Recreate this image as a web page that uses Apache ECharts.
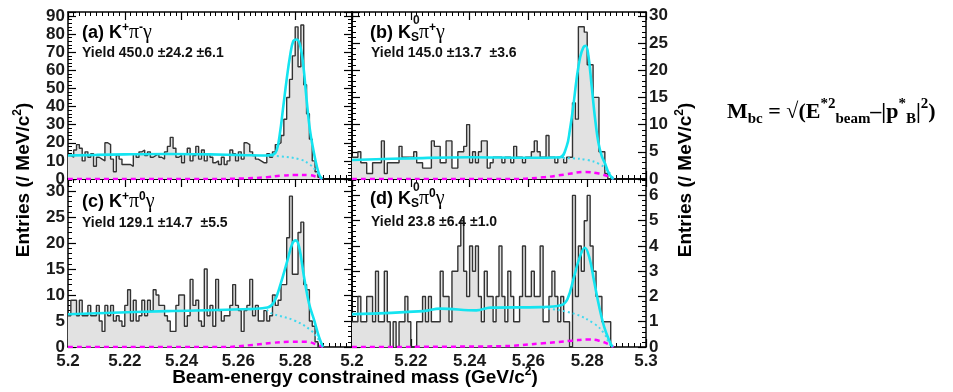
<!DOCTYPE html>
<html>
<head>
<meta charset="utf-8">
<script src="https://cdn.jsdelivr.net/npm/echarts@6/dist/echarts.min.js"></script>
<style>
  html, body { margin: 0; padding: 0; background: #fff; }
  #chart { width: 953px; height: 392px; }
</style>
</head>
<body>
<div id="chart"></div>
<script>
// histogram bins: 1 MeV wide, starting at 5.200 GeV
const binStart = 5.2;
const binWidth = 0.001;

// (a) K+ pi- gamma
const histA = [
  13, 12, 16, 19, 17, 10, 15, 12, 14, 7,
  12, 11, 10, 20, 19, 11, 4, 13, 11, 8,
  8, 8, 7, 14, 12, 15, 16, 13, 15, 12,
  13, 14, 12, 11, 15, 18, 23, 17, 12, 13,
  9, 14, 17, 10, 13, 18, 11, 16, 10, 14,
  12, 9, 10, 8, 12, 8, 10, 16, 14, 10,
  15, 11, 20, 19, 15, 13, 11, 10, 9, 9,
  14, 12, 15, 19, 20, 24, 33, 45, 55, 68,
  84, 62, 85, 52, 36, 22, 10, 4, 1, 0
];
const fitA = [[5.2, 13], [5.21, 13.3], [5.22, 13.6], [5.235, 13.8], [5.25, 13.6], [5.262, 13.2], [5.27, 13],
  [5.2723, 13.5], [5.2735, 16], [5.2746, 25], [5.2758, 40], [5.277, 55], [5.2782, 68], [5.2793, 76],
  [5.2805, 77], [5.2817, 74], [5.2829, 62], [5.284, 44], [5.2852, 27], [5.2864, 16], [5.2876, 7],
  [5.2887, 1.5], [5.2895, 0]];
const bkgA = [[5.27, 12.9], [5.275, 12.5], [5.2817, 10.8], [5.2852, 8], [5.2876, 4], [5.2893, 0.5], [5.2897, 0]];
const peakA = [[5.2, 0], [5.25, 0], [5.262, 0.3], [5.27, 1], [5.275, 1.8], [5.28, 2.2], [5.285, 2.1], [5.2875, 1.2], [5.2895, 0]];

// (b) K0S pi+ gamma
const histB = [
  4, 4, 5, 3, 3, 1, 1, 3, 3, 3,
  7, 1, 3, 3, 3, 3, 6, 4, 4, 4,
  4, 5, 3, 3, 2, 2, 2, 7, 6, 6,
  3, 3, 7, 7, 2, 2, 5, 5, 6, 10,
  3, 5, 3, 5, 7, 7, 2, 3, 4, 4,
  4, 3, 4, 4, 3, 6, 4, 4, 3, 4,
  4, 5, 7, 5, 4, 4, 8, 4, 4, 3,
  4, 4, 3, 4, 4, 14, 11, 28, 28, 27,
  21, 21, 15, 15, 5, 5, 1, 0, 0, 0
];
const fitB = [[5.2, 3.5], [5.22, 3.8], [5.24, 4.0], [5.26, 3.9], [5.2707, 4.0], [5.273, 6], [5.2741, 9],
  [5.2753, 13.5], [5.2764, 18.4], [5.2776, 22.4], [5.2787, 24.2], [5.2795, 24.5], [5.2804, 22.7],
  [5.2815, 17.2], [5.2827, 11], [5.2838, 6.7], [5.2849, 4.3], [5.2861, 2.8], [5.2872, 1.2], [5.2883, 0.3], [5.289, 0]];
const bkgB = [[5.27, 3.9], [5.275, 3.8], [5.28, 3.5], [5.284, 2.8], [5.287, 1.5], [5.289, 0]];
const peakB = [[5.2, 0], [5.255, 0], [5.265, 0.3], [5.272, 0.8], [5.2795, 1.3], [5.284, 1.0], [5.2875, 0.4], [5.289, 0]];

// (c) K+ pi0 gamma
const histC = [
  6, 9, 9, 6, 9, 6, 6, 8, 6, 6,
  8, 5, 3, 8, 6, 8, 5, 6, 5, 4,
  8, 11, 5, 9, 5, 6, 9, 6, 9, 7,
  11, 10, 8, 8, 6, 5, 3, 3, 8, 10,
  10, 4, 6, 13, 8, 9, 5, 4, 15, 6,
  8, 4, 13, 7, 5, 6, 6, 8, 12, 8,
  7, 3, 7, 8, 13, 6, 8, 5, 5, 7,
  5, 6, 10, 8, 9, 12, 12, 21, 29, 14,
  14, 22, 24, 12, 11, 5, 4, 1, 0, 0
];
const fitC = [[5.2, 6.3], [5.2349, 6.9], [5.2584, 7.2], [5.2702, 7.6], [5.2726, 8.7], [5.2749, 12.2],
  [5.2773, 16.7], [5.279, 19.9], [5.2802, 20.5], [5.2814, 19.2], [5.2831, 13.5], [5.2849, 8.3],
  [5.2867, 5.1], [5.2884, 1.9], [5.2898, 0]];
const bkgC = [[5.27, 7.2], [5.2715, 6.5], [5.2797, 5.1], [5.2855, 3.2], [5.2884, 1.3], [5.2898, 0]];
const peakC = [[5.2, 0], [5.255, 0], [5.265, 0.4], [5.272, 0.8], [5.278, 1.0], [5.284, 1.0], [5.2875, 0.5], [5.2898, 0]];

// (d) K0S pi0 gamma
const histD = [
  1, 1, 2, 1, 1, 2, 2, 1, 3, 1,
  1, 3, 1, 0, 1, 0, 1, 1, 2, 1,
  0, 0, 1, 1, 2, 1, 2, 1, 1, 1,
  3, 2, 2, 1, 3, 3, 4, 5, 3, 2,
  4, 3, 4, 2, 1, 3, 2, 2, 1, 2,
  4, 2, 1, 3, 2, 1, 1, 2, 4, 2,
  2, 3, 2, 2, 4, 1, 1, 2, 3, 2,
  1, 2, 1, 1, 0, 6, 2, 4, 3, 5,
  6, 4, 3, 2, 2, 1, 1, 1, 0, 0
];
const fitD = [[5.2, 1.3], [5.2243, 1.42], [5.23, 1.52], [5.2423, 1.45], [5.2471, 1.56], [5.2642, 1.58],
  [5.271, 1.65], [5.2733, 1.9], [5.2755, 2.77], [5.2773, 3.5], [5.2792, 3.93], [5.2807, 3.56],
  [5.2824, 2.57], [5.2841, 1.58], [5.2858, 0.79], [5.2875, 0.26], [5.2886, 0]];
const bkgD = [[5.265, 1.55], [5.2755, 1.32], [5.2824, 0.92], [5.2858, 0.53], [5.2875, 0.13], [5.2886, 0]];
const peakD = [[5.2, 0], [5.25, 0.03], [5.265, 0.15], [5.275, 0.25], [5.28, 0.3], [5.284, 0.25], [5.2875, 0.1], [5.289, 0]];

const yieldTexts = ['Yield 450.0 \u00b124.2 \u00b16.1', 'Yield 145.0 \u00b113.7  \u00b13.6',
  'Yield 129.1 \u00b114.7  \u00b15.5', 'Yield 23.8 \u00b16.4 \u00b11.0'];

const SANS = 'Liberation Sans';
const SERIF = 'Liberation Serif';

// one entry per panel
const panels = [
  { grid: { left: 68, top: 12, width: 284, height: 167 }, yMax: 92.2, yStep: 10, labelSide: 'left', xLabels: false, xMaxLabel: false, hist: histA, fit: fitA, bkg: bkgA, peak: peakA },
  { grid: { left: 352, top: 12, width: 294, height: 167 }, yMax: 30.7, yStep: 5, labelSide: 'right', xLabels: false, xMaxLabel: false, hist: histB, fit: fitB, bkg: bkgB, peak: peakB },
  { grid: { left: 68, top: 179, width: 284, height: 168 }, yMax: 32.3, yStep: 5, labelSide: 'left', xLabels: true, xMaxLabel: false, hist: histC, fit: fitC, bkg: bkgC, peak: peakC },
  { grid: { left: 352, top: 179, width: 294, height: 168 }, yMax: 6.65, yStep: 1, labelSide: 'right', xLabels: true, xMaxLabel: true, hist: histD, fit: fitD, bkg: bkgD, peak: peakD }
];

const histPoints = (vals) => {
  const pts = vals.map((v, i) => [+(binStart + i * binWidth).toFixed(4), v]);
  pts.push([+(binStart + vals.length * binWidth).toFixed(4), 0]);
  return pts;
};

const tickLabel = { fontSize: 17, fontWeight: 'bold', fontFamily: SANS, color: '#1a1a1a' };
const frameLine = { show: true, onZero: false, lineStyle: { color: '#000', width: 1.5 } };

const grids = [], xAxes = [], yAxes = [], series = [];
panels.forEach((p, g) => {
  grids.push(Object.assign({ show: false }, p.grid));
  ['bottom', 'top'].forEach(pos => {
    xAxes.push({
      type: 'value', gridIndex: g, position: pos, min: 5.2, max: 5.3, interval: 0.02,
      axisLine: frameLine,
      axisTick: { show: true, inside: true, length: 8, lineStyle: { color: '#000', width: 1.2 } },
      minorTick: { show: true, splitNumber: 10, length: 4, lineStyle: { color: '#000', width: 1 } },
      splitLine: { show: false },
      axisLabel: Object.assign({
        show: pos === 'bottom' && p.xLabels, showMinLabel: true, showMaxLabel: p.xMaxLabel, margin: 6,
        formatter: v => String(Math.round(v * 100) / 100)
      }, tickLabel)
    });
  });
  ['left', 'right'].forEach(pos => {
    yAxes.push({
      type: 'value', gridIndex: g, position: pos, min: 0, max: p.yMax, interval: p.yStep,
      axisLine: frameLine,
      axisTick: { show: true, inside: true, length: 8, lineStyle: { color: '#000', width: 1.2 } },
      minorTick: { show: true, splitNumber: 5, length: 4, lineStyle: { color: '#000', width: 1 } },
      splitLine: { show: false },
      axisLabel: Object.assign({ show: pos === p.labelSide, showMaxLabel: false, margin: 3 }, tickLabel)
    });
  });
  const xi = 2 * g, yi = 2 * g + (p.labelSide === 'left' ? 0 : 1);
  series.push({
    type: 'line', xAxisIndex: xi, yAxisIndex: yi, data: histPoints(p.hist), step: 'end',
    symbol: 'none', lineStyle: { color: '#333', width: 1.4 },
    areaStyle: { color: '#e2e2e2', opacity: 1 }, z: 2
  });
  series.push({
    type: 'line', xAxisIndex: xi, yAxisIndex: yi, data: p.peak, smooth: 0.4, symbol: 'none',
    lineStyle: { color: '#ff00ff', width: 2.5, type: [5, 4] }, z: 3
  });
  series.push({
    type: 'line', xAxisIndex: xi, yAxisIndex: yi, data: p.bkg, smooth: 0.4, symbol: 'none',
    lineStyle: { color: '#40d8ee', width: 2, type: [2, 3] }, z: 4
  });
  series.push({
    type: 'line', xAxisIndex: xi, yAxisIndex: yi, data: p.fit, smooth: 0.4, symbol: 'none',
    lineStyle: { color: '#14e4f0', width: 2.6 }, z: 5
  });
});

// rich text styles for the panel labels
const labelRich = {
  b: { fontSize: 18, fontWeight: 'bold', fontFamily: SANS, lineHeight: 22, color: '#111' },
  g: { fontSize: 20, fontFamily: SERIF, lineHeight: 22, color: '#111' },
  sup: { fontSize: 12, fontWeight: 'bold', fontFamily: SANS, lineHeight: 12, verticalAlign: 'top', color: '#111' },
  sub: { fontSize: 12, fontWeight: 'bold', fontFamily: SANS, lineHeight: 12, verticalAlign: 'bottom', color: '#111' }
};
const titleRich = {
  t: { fontSize: 19, fontWeight: 'bold', fontFamily: SANS, lineHeight: 24, color: '#111' },
  sup: { fontSize: 12, fontWeight: 'bold', fontFamily: SANS, lineHeight: 12, verticalAlign: 'top', color: '#111' }
};
const formulaRich = {
  t: { fontSize: 22, fontWeight: 'bold', fontFamily: SERIF, lineHeight: 30, color: '#000' },
  sup: { fontSize: 15, fontWeight: 'bold', fontFamily: SERIF, lineHeight: 15, verticalAlign: 'top', color: '#000' },
  sub: { fontSize: 15, fontWeight: 'bold', fontFamily: SERIF, lineHeight: 15, verticalAlign: 'bottom', color: '#000' }
};

const label = (x, y, text) => ({ type: 'text', x: x, y: y, style: { text: text, rich: labelRich, verticalAlign: 'top' }, z: 20 });
const small = (x, y, text) => ({ type: 'text', x: x, y: y, style: { text: text, fontSize: 12, fontWeight: 'bold', fontFamily: SANS, fill: '#111', verticalAlign: 'top' }, z: 20 });
const yieldLabel = (x, y, text) => ({ type: 'text', x: x, y: y, style: { text: text, fontSize: 14, fontWeight: 'bold', fontFamily: SANS, fill: '#111', verticalAlign: 'middle' }, z: 20 });

const graphics = [
  label(82, 22, '{b|(a) K}{sup|+}{g|\u03c0}{sup|-}{g|\u03b3}'),
  label(370, 22, '{b|(b) K}{sub|S}{g|\u03c0}{sup|+}{g|\u03b3}'),
  small(413, 15, '0'),
  label(82, 191, '{b|(c) K}{sup|+}{g|\u03c0}{sup|0}{g|\u03b3}'),
  label(370, 188, '{b|(d) K}{sub|S}{g|\u03c0}{sup|0}{g|\u03b3}'),
  small(413, 182, '0'),
  yieldLabel(82, 53, yieldTexts[0]),
  yieldLabel(371, 53, yieldTexts[1]),
  yieldLabel(82, 223, yieldTexts[2]),
  yieldLabel(371, 222, yieldTexts[3]),
  { type: 'text', x: 24, y: 180, rotation: Math.PI / 2,
    style: { text: '{t|Entries (/ MeV/c}{sup|2}{t|)}', rich: titleRich, align: 'center', verticalAlign: 'middle' } },
  { type: 'text', x: 686, y: 180, rotation: Math.PI / 2,
    style: { text: '{t|Entries (/ MeV/c}{sup|2}{t|)}', rich: titleRich, align: 'center', verticalAlign: 'middle' } },
  { type: 'text', x: 355, y: 378,
    style: { text: '{t|Beam-energy constrained mass (GeV/c}{sup|2}{t|)}', rich: titleRich, align: 'center', verticalAlign: 'middle' } },
  { type: 'text', x: 727, y: 112,
    style: { text: '{t|M}{sub|bc}{t| = \u221a(E}{sup|*2}{sub|beam}{t|\u2013|p}{sup|*}{sub|B}{t||}{sup|2}{t|)}', rich: formulaRich, verticalAlign: 'middle' } }
];

const chart = echarts.init(document.getElementById('chart'));
chart.setOption({
  animation: false,
  backgroundColor: '#fff',
  grid: grids,
  xAxis: xAxes,
  yAxis: yAxes,
  series: series,
  graphic: graphics
});
</script>
</body>
</html>
